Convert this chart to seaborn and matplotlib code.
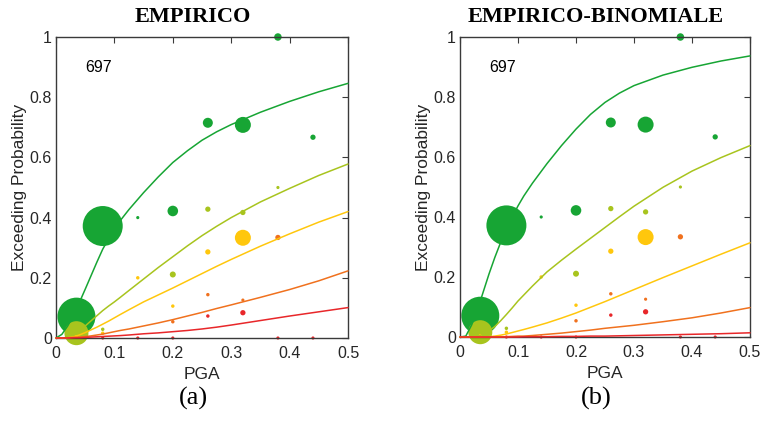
import numpy as np
import pandas as pd
import matplotlib
matplotlib.use("Agg")
import matplotlib.pyplot as plt
import seaborn as sns

# ---------------- data ----------------
damage_levels = ["DS1", "DS2", "DS3", "DS4", "DS5"]
level_colors = ["#17A534", "#A8C41E", "#FFC70D", "#F0711E", "#E8272A"]

# observed exceedance points (same in both panels)
pts_level = (["DS1"] * 8 + ["DS2"] * 6 + ["DS3"] * 6 + ["DS4"] * 4 + ["DS5"] * 7)
pts_pga = ([0.035, 0.08, 0.14, 0.20, 0.26, 0.32, 0.38, 0.44] +
           [0.035, 0.08, 0.20, 0.26, 0.32, 0.38] +
           [0.035, 0.08, 0.14, 0.20, 0.26, 0.32] +
           [0.20, 0.26, 0.32, 0.38] +
           [0.08, 0.14, 0.20, 0.26, 0.32, 0.38, 0.44])
pts_prob = ([0.071, 0.372, 0.40, 0.422, 0.715, 0.708, 1.0, 0.667] +
            [0.016, 0.029, 0.211, 0.428, 0.417, 0.50] +
            [0.005, 0.016, 0.20, 0.106, 0.286, 0.333] +
            [0.054, 0.144, 0.126, 0.334] +
            [0.0, 0.0, 0.0, 0.073, 0.084, 0.0, 0.0])
pts_count = ([361, 400, 2.5, 28, 25, 64, 14, 7] +
             [144, 3, 9, 7, 7, 2.5] +
             [2.5, 3, 3, 3, 7, 64] +
             [3, 3, 2.5, 7] +
             [2.5, 2.5, 2.5, 3, 7, 2.5, 2.5])

# fitted curves
pga_grid = [0, 0.01, 0.02, 0.03, 0.04, 0.05, 0.06, 0.07, 0.08, 0.09, 0.10, 0.11, 0.125,
            0.15, 0.175, 0.20, 0.225, 0.25, 0.275, 0.30, 0.35, 0.40, 0.45, 0.50]
emp_curves = {
    "DS1": [0, 0.012, 0.04, 0.075, 0.118, 0.162, 0.207, 0.252, 0.295, 0.33, 0.362, 0.39, 0.427,
            0.483, 0.535, 0.583, 0.622, 0.657, 0.685, 0.709, 0.75, 0.786, 0.818, 0.846],
    "DS2": [0, 0, 0.002, 0.01, 0.024, 0.04, 0.057, 0.074, 0.091, 0.106, 0.12, 0.135, 0.158,
            0.196, 0.234, 0.27, 0.306, 0.34, 0.371, 0.40, 0.452, 0.497, 0.54, 0.578],
    "DS3": [0, 0, 0.001, 0.004, 0.01, 0.018, 0.027, 0.036, 0.046, 0.056, 0.067, 0.078, 0.094,
            0.12, 0.143, 0.166, 0.19, 0.214, 0.238, 0.261, 0.305, 0.346, 0.385, 0.42],
    "DS4": [0, 0, 0.001, 0.002, 0.003, 0.005, 0.007, 0.01, 0.013, 0.017, 0.021, 0.025, 0.03,
            0.04, 0.05, 0.061, 0.073, 0.085, 0.098, 0.11, 0.135, 0.161, 0.19, 0.223],
    "DS5": [0, 0, 0, 0.001, 0.001, 0.002, 0.003, 0.004, 0.005, 0.006, 0.007, 0.008, 0.01,
            0.014, 0.017, 0.021, 0.025, 0.03, 0.036, 0.043, 0.058, 0.073, 0.087, 0.101],
}
bin_curves = {
    "DS1": [0, 0.003, 0.04, 0.09, 0.15, 0.21, 0.265, 0.315, 0.36, 0.40, 0.437, 0.47, 0.513,
            0.578, 0.638, 0.693, 0.742, 0.782, 0.813, 0.838, 0.873, 0.899, 0.92, 0.937],
    "DS2": [0, 0, 0, 0.002, 0.009, 0.02, 0.035, 0.054, 0.075, 0.097, 0.12, 0.14, 0.17,
            0.217, 0.256, 0.293, 0.329, 0.365, 0.401, 0.436, 0.499, 0.553, 0.598, 0.638],
    "DS3": [0, 0, 0, 0, 0, 0.001, 0.003, 0.006, 0.01, 0.015, 0.02, 0.025, 0.033,
            0.047, 0.063, 0.08, 0.099, 0.118, 0.138, 0.158, 0.198, 0.237, 0.276, 0.314],
    "DS4": [0, 0, 0, 0, 0, 0, 0, 0, 0.001, 0.002, 0.003, 0.003, 0.005,
            0.009, 0.013, 0.018, 0.023, 0.029, 0.034, 0.039, 0.051, 0.064, 0.08, 0.098],
    "DS5": [0, 0, 0, 0, 0, 0, 0, 0, 0, 0, 0, 0.001, 0.001,
            0.001, 0.002, 0.002, 0.003, 0.003, 0.004, 0.005, 0.007, 0.009, 0.011, 0.014],
}

titles = ["EMPIRICO", "EMPIRICO-BINOMIALE"]
panel_labels = ["(a)", "(b)"]
annot_text = "697"
x_ticks = [0, 0.1, 0.2, 0.3, 0.4, 0.5]
x_ticklabels = ["0", "0.1", "0.2", "0.3", "0.4", "0.5"]
y_ticks = [0, 0.2, 0.4, 0.6, 0.8, 1.0]
y_ticklabels = ["0", "0.2", "0.4", "0.6", "0.8", "1"]

# ---------------- build frames ----------------
pts_df = pd.DataFrame({"level": pts_level, "pga": pts_pga, "prob": pts_prob, "n": pts_count})
palette = dict(zip(damage_levels, level_colors))


def curve_frame(curves):
    rows = []
    for lvl in damage_levels:
        for x, y in zip(pga_grid, curves[lvl]):
            rows.append((lvl, x, y))
    return pd.DataFrame(rows, columns=["level", "pga", "prob"])


sns.set_theme(style="white")
plt.rcParams["font.family"] = ["Liberation Sans", "DejaVu Sans"]

fig = plt.figure(figsize=(7.63, 4.22), dpi=100)
ax_rects = [[56 / 763, 1 - 338 / 422, 292 / 763, 301 / 422],
            [460 / 763, 1 - 337 / 422, 290 / 763, 300 / 422]]
title_x = [193 / 763, 596 / 763]
spine_col = "#3a3a3a"
px2pt2 = (0.72 ** 2) * 4  # area per count unit (pt^2)
nmin, nmax = min(pts_count), max(pts_count)

for i, curves in enumerate([emp_curves, bin_curves]):
    ax = fig.add_axes(ax_rects[i])
    sns.scatterplot(data=pts_df, x="pga", y="prob", hue="level", palette=palette,
                    size="n", sizes=(nmin * px2pt2, nmax * px2pt2), size_norm=(nmin, nmax),
                    linewidth=0, alpha=1, legend=False, ax=ax, clip_on=False, zorder=1)
    cdf = curve_frame(curves)
    sns.lineplot(data=cdf, x="pga", y="prob", hue="level", palette=palette,
                 linewidth=1.1, legend=False, ax=ax, sort=False, zorder=3, clip_on=False)
    ax.set_xlim(0, 0.5)
    ax.set_ylim(0, 1)
    ax.set_xticks(x_ticks)
    ax.set_xticklabels(x_ticklabels)
    ax.set_yticks(y_ticks)
    ax.set_yticklabels(y_ticklabels)
    ax.tick_params(direction="in", length=4, width=0.8, color=spine_col,
                   top=True, right=True, labelsize=11.5, labelcolor="#262626")
    ax.tick_params(axis="x", pad=6)
    ax.tick_params(axis="y", pad=3)
    for sp in ax.spines.values():
        sp.set_visible(True)
        sp.set_color(spine_col)
        sp.set_linewidth(1.0)
    ax.set_xlabel("PGA", fontsize=12.5, color="#262626", labelpad=4)
    ax.set_ylabel("Exceeding Probability", fontsize=12.5, color="#262626", labelpad=1.5)
    ax.text(0.05, 0.9, annot_text, fontsize=11.5, color="black", ha="left", va="center")
    ax.grid(False)
    ax.set_facecolor("white")
    fig.text(title_x[i], 1 - 17 / 422, titles[i], ha="center", va="center",
             fontsize=16, fontweight="bold", family=["Liberation Serif", "DejaVu Serif"], color="black")
    fig.text(title_x[i], 1 - 398 / 422, panel_labels[i], ha="center", va="center",
             fontsize=19, family=["Liberation Serif", "DejaVu Serif"], color="black")

fig.savefig("out.png", dpi=100)
